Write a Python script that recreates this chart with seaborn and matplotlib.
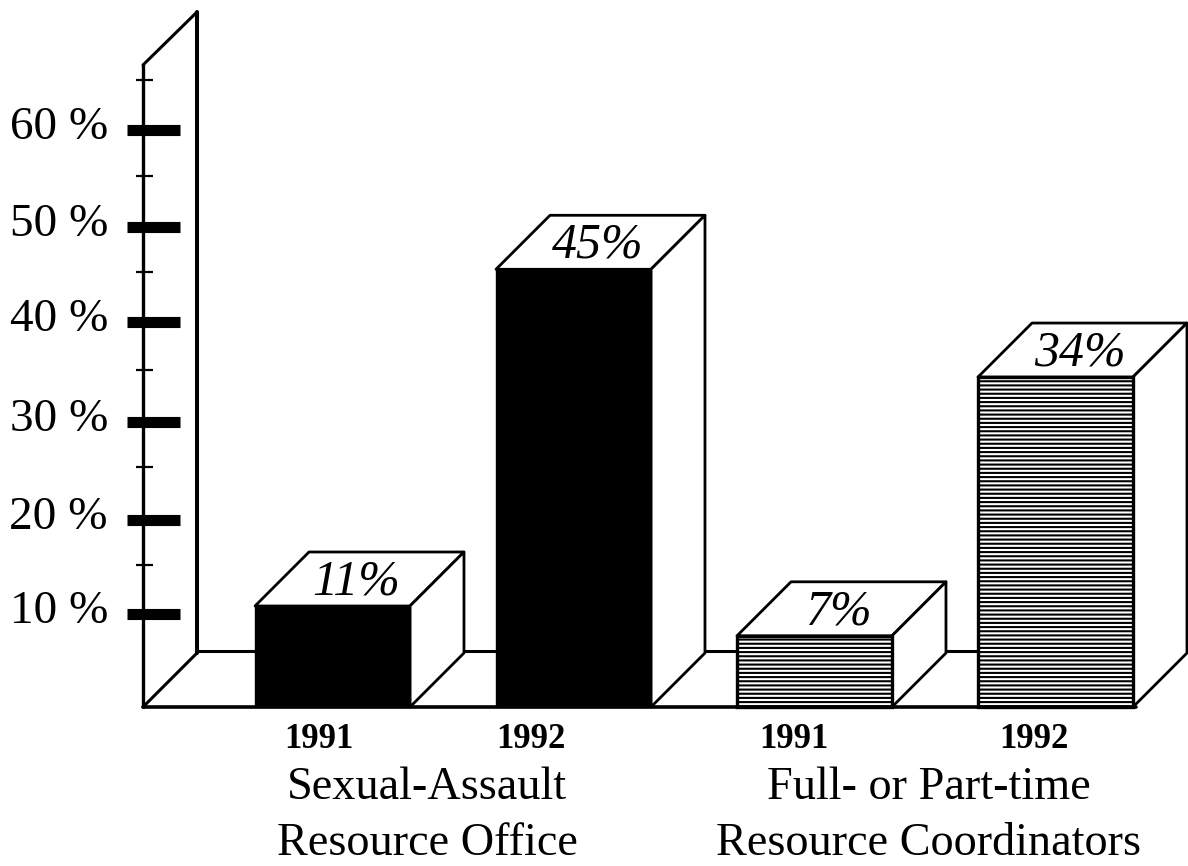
import matplotlib
matplotlib.use("Agg")
from matplotlib import pyplot as plt
from matplotlib.patches import Polygon
import pandas as pd
import seaborn as sns

bar_ids = ["Office 1991", "Office 1992", "Coordinators 1991", "Coordinators 1992"]
heights = [10.5, 45.5, 7.4, 34.3]
bar_labels = ["11%", "45%", "7%", "34%"]
years = ["1991", "1992", "1991", "1992"]
group_names = ["Sexual-Assault\nResource Office", "Full- or Part-time\nResource Coordinators"]
# the scanned ticks are not quite evenly spaced
major_ticks = [9.7, 19.4, 29.6, 40, 49.9, 60]
minor_ticks = [14.8, 25, 35, 45.2, 55.2, 65.2]
tick_labels = ["10 %", "20 %", "30 %", "40 %", "50 %", "60 %"]

W, H = 1188, 866
PX_PER_CAT = 241.0
PX_PER_PCT = 9.62
X0_PX, Y0_PX = 332.5, 707.0
DEPTH_X = 54 / PX_PER_CAT
DEPTH_Y = 54 / PX_PER_PCT


def px(x):
    return (x - X0_PX) / PX_PER_CAT


def py(y):
    return (Y0_PX - y) / PX_PER_PCT


sns.set_theme(style="white")
plt.rcParams["font.family"] = ["Liberation Serif", "DejaVu Serif"]
plt.rcParams["hatch.linewidth"] = 1.5

df = pd.DataFrame({"bar": bar_ids, "value": heights})

fig = plt.figure(figsize=(W / 100, H / 100), dpi=100)
ax = fig.add_axes([0, 0, 1, 1])
sns.barplot(data=df, x="bar", y="value", color="black", width=0.643, saturation=1, ax=ax, zorder=3,
            edgecolor="black", linewidth=1)
ax.set_xlim(px(0), px(W))
ax.set_ylim(py(H), py(0))
ax.axis("off")

# walls and floor
wall_x, back_x = px(143), px(143) + DEPTH_X
wall_top = py(65)
ax.plot([wall_x, wall_x], [0, wall_top], color="black", lw=2.4, zorder=1)
ax.plot([back_x, back_x], [DEPTH_Y, py(12)], color="black", lw=2.9, zorder=1)
ax.plot([wall_x, back_x], [wall_top, py(12)], color="black", lw=2.2, zorder=1, solid_capstyle="round")
ax.plot([wall_x, back_x], [0, DEPTH_Y], color="black", lw=2.2, zorder=1)
ax.plot([back_x, px(W)], [DEPTH_Y + 0.2, DEPTH_Y + 0.2], color="black", lw=2.2, zorder=1)
ax.plot([wall_x, px(1136)], [0, 0], color="black", lw=2.6, zorder=5)

ax.hlines(major_ticks, px(127), px(180), color="black", lw=8, zorder=2)
ax.hlines(minor_ticks, px(136), px(153), color="black", lw=1.6, zorder=2)
for t, lab in zip(major_ticks, tick_labels):
    ax.text(px(108), t + 0.25, lab, ha="right", va="center", fontsize=34, color="black")

# fake 3d sides for each bar
for i, patch in enumerate(ax.patches):
    x, w, h = patch.get_x(), patch.get_width(), patch.get_height()
    if i >= 2:
        patch.set_facecolor("white")
        patch.set_edgecolor("black")
        patch.set_hatch("----")
        patch.set_linewidth(2.4)
    top = [(x, h), (x + w, h), (x + w + DEPTH_X, h + DEPTH_Y), (x + DEPTH_X, h + DEPTH_Y)]
    side = [(x + w, 0), (x + w + DEPTH_X, DEPTH_Y), (x + w + DEPTH_X, h + DEPTH_Y), (x + w, h)]
    ax.add_patch(Polygon(top, closed=True, fc="white", ec="black", lw=2, zorder=2, joinstyle="round"))
    ax.add_patch(Polygon(side, closed=True, fc="white", ec="black", lw=2, zorder=2, joinstyle="round"))
    ax.text(x + w / 2 + DEPTH_X / 2 - 3 / PX_PER_CAT, h + DEPTH_Y / 2 - 0.35, bar_labels[i], ha="center",
            va="center", fontsize=36, style="italic", color="black", zorder=6)

for lab, xp in zip(years, [319, 531, 794, 1034]):
    ax.text(px(xp), py(739), lab, ha="center", va="center", fontsize=25, fontweight="bold", color="black")

for name, xp in zip(group_names, [427, 929]):
    ax.text(px(xp), py(816), name, ha="center", va="center", fontsize=33.3, linespacing=1.42, color="black")

fig.savefig("out.png", dpi=100)
